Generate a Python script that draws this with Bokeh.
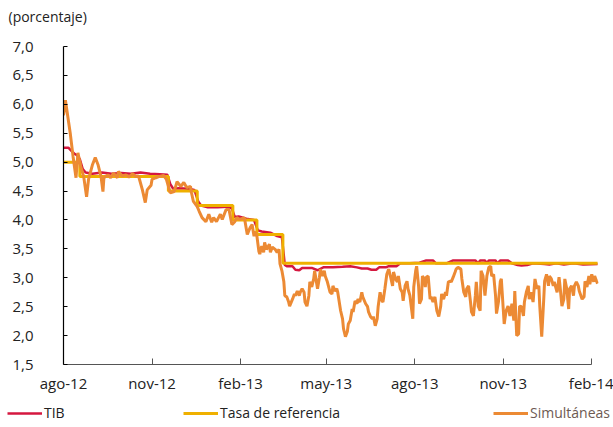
from bokeh.plotting import figure
from bokeh.layouts import column
from bokeh.models import Range1d, FixedTicker, Legend, LegendItem, Label
from bokeh.embed import file_html
from bokeh.resources import INLINE

# ---- data (x = days since 1 Aug 2012) ----
x_ticks = [0, 92, 184, 273, 365, 457, 549]
x_labels = ["ago-12", "nov-12", "feb-13", "may-13", "ago-13", "nov-13", "feb-14"]

y_ticks = [1.5, 2.0, 2.5, 3.0, 3.5, 4.0, 4.5, 5.0, 5.5, 6.0, 6.5, 7.0]
y_labels = ["1,5", "2,0", "2,5", "3,0", "3,5", "4,0", "4,5", "5,0", "5,5", "6,0", "6,5", "7,0"]

# Tasa de referencia (step changes)
ref_dia = [0, 17, 109, 139, 176, 201, 228, 555]
ref_val = [5.00, 4.75, 4.50, 4.25, 4.00, 3.75, 3.25, 3.25]

# TIB
tib = [(0, 5.25), (5, 5.25), (8, 5.20), (11, 5.15), (14, 5.12), (17, 5.05), (20, 4.88), (23, 4.82),
       (30, 4.80), (40, 4.82), (50, 4.80), (60, 4.81), (70, 4.80), (80, 4.82), (90, 4.80), (100, 4.79),
       (108, 4.78), (111, 4.62), (114, 4.54), (120, 4.55), (130, 4.54), (136, 4.52), (140, 4.32),
       (143, 4.25), (150, 4.22), (160, 4.22), (170, 4.23), (175, 4.20), (178, 4.05), (182, 4.06),
       (190, 4.02), (198, 4.00), (202, 3.82), (206, 3.80), (215, 3.78), (222, 3.72), (227, 3.70),
       (230, 3.22), (232, 3.20), (238, 3.20), (241, 3.14), (245, 3.13), (248, 3.17), (258, 3.17),
       (264, 3.13), (270, 3.18), (280, 3.18), (290, 3.19), (298, 3.20), (305, 3.18), (310, 3.16),
       (316, 3.16), (320, 3.14), (325, 3.14), (328, 3.18), (335, 3.18), (338, 3.20), (346, 3.20),
       (350, 3.25), (360, 3.25), (370, 3.26), (377, 3.30), (384, 3.30), (387, 3.25), (398, 3.25),
       (405, 3.30), (428, 3.30), (431, 3.25), (433, 3.30), (438, 3.30), (440, 3.25), (442, 3.30),
       (449, 3.30), (451, 3.25), (454, 3.30), (462, 3.30), (466, 3.25), (472, 3.22), (476, 3.21),
       (482, 3.22), (488, 3.25), (500, 3.24), (505, 3.23), (512, 3.25), (520, 3.23), (530, 3.25),
       (540, 3.23), (555, 3.24)]

# Simultáneas
sim = [(0, 5.81), (2, 6.07), (7, 5.50), (10, 5.09), (13, 4.73), (15, 5.16), (18, 4.92), (21, 4.75),
       (24, 4.40), (26, 4.70), (30, 4.95), (33, 5.08), (36, 4.95), (39, 4.75), (41, 4.49), (42, 4.73),
       (46, 4.78), (49, 4.73), (52, 4.81), (56, 4.73), (57, 4.84), (61, 4.76), (65, 4.78), (68, 4.74),
       (72, 4.80), (75, 4.75), (78, 4.76), (82, 4.52), (85, 4.30), (87, 4.52), (91, 4.60), (92, 4.70),
       (96, 4.73), (99, 4.75), (104, 4.77), (107, 4.70), (111, 4.47), (115, 4.49), (118, 4.66),
       (122, 4.58), (125, 4.65), (128, 4.56), (132, 4.58), (133, 4.47), (135, 4.32), (139, 4.23),
       (141, 4.15), (144, 4.04), (148, 3.97), (151, 4.10), (154, 3.96), (156, 4.04), (159, 3.97),
       (163, 4.10), (165, 4.01), (169, 4.18), (172, 4.18), (175, 3.92), (178, 3.97), (180, 4.04),
       (183, 4.01), (188, 4.04), (191, 3.75), (194, 3.87), (196, 3.92), (198, 3.72), (199, 3.80),
       (201, 3.72), (203, 3.46), (204, 3.41), (206, 3.55), (208, 3.44), (209, 3.61), (211, 3.49),
       (214, 3.58), (215, 3.44), (217, 3.53), (220, 3.49), (222, 3.44), (224, 3.49), (225, 3.24),
       (227, 3.12), (229, 2.93), (230, 2.69), (232, 2.67), (234, 2.58), (235, 2.51), (238, 2.63),
       (240, 2.72), (241, 2.69), (243, 2.77), (245, 2.69), (246, 2.75), (248, 2.81), (250, 2.75),
       (251, 2.58), (253, 2.51), (255, 2.69), (256, 2.93), (258, 2.84), (260, 2.98), (261, 3.12),
       (264, 2.81), (266, 3.01), (267, 3.15), (269, 3.03), (271, 3.12), (272, 3.03), (274, 2.94),
       (277, 2.75), (279, 2.72), (280, 2.86), (282, 2.77), (284, 2.81), (285, 2.75), (288, 2.43),
       (290, 2.29), (291, 2.12), (293, 1.98), (295, 2.07), (296, 2.20), (298, 2.26), (300, 2.46),
       (301, 2.41), (303, 2.60), (305, 2.55), (306, 2.63), (308, 2.58), (310, 2.75), (311, 2.67),
       (314, 2.55), (316, 2.50), (317, 2.41), (319, 2.33), (321, 2.29), (322, 2.33), (324, 2.17),
       (326, 2.29), (327, 2.50), (329, 2.75), (331, 2.60), (332, 2.58), (334, 2.81), (336, 3.06),
       (338, 3.15), (340, 3.01), (342, 2.86), (343, 3.10), (345, 2.98), (347, 2.93), (348, 3.03),
       (350, 2.81), (352, 2.75), (353, 2.60), (355, 2.86), (357, 2.94), (358, 2.81), (360, 2.69),
       (363, 2.29), (364, 2.84), (366, 3.12), (367, 3.20), (369, 2.86), (370, 2.55), (372, 2.63),
       (373, 3.03), (375, 2.98), (376, 2.84), (377, 3.01), (379, 3.03), (381, 2.63), (382, 2.67),
       (384, 2.58), (386, 2.67), (388, 2.43), (390, 2.33), (392, 2.51), (393, 2.72), (395, 2.63),
       (397, 2.75), (398, 2.69), (400, 2.93), (402, 2.94), (403, 2.93), (405, 3.01), (407, 3.10),
       (408, 3.15), (410, 3.18), (413, 3.15), (414, 2.98), (416, 2.75), (418, 2.67), (419, 2.81),
       (421, 2.86), (423, 2.58), (424, 2.41), (426, 2.34), (428, 2.69), (429, 2.93), (431, 2.51),
       (433, 2.43), (434, 3.12), (436, 3.03), (438, 2.69), (440, 3.03), (442, 3.18), (444, 3.20),
       (445, 3.03), (447, 3.06), (449, 2.69), (450, 2.38), (452, 2.58), (454, 2.94), (455, 2.98),
       (457, 2.46), (458, 2.20), (460, 2.43), (462, 2.51), (464, 2.34), (466, 2.55), (468, 2.26),
       (469, 2.77), (471, 2.00), (473, 2.03), (474, 2.51), (476, 2.50), (478, 2.34), (479, 2.58),
       (481, 2.75), (483, 2.86), (484, 2.63), (486, 2.75), (488, 2.58), (490, 2.98), (492, 2.81),
       (494, 2.86), (495, 2.50), (497, 1.98), (499, 2.60), (500, 2.94), (502, 3.06), (504, 2.86),
       (505, 3.03), (507, 2.98), (509, 2.86), (510, 2.93), (513, 2.75), (515, 3.01), (516, 2.86),
       (518, 2.51), (520, 2.63), (521, 2.98), (523, 2.81), (525, 2.46), (526, 2.81), (528, 2.86),
       (530, 2.69), (531, 2.86), (533, 2.93), (535, 2.86), (536, 2.77), (539, 2.63), (541, 2.67),
       (542, 2.94), (544, 2.84), (546, 3.03), (547, 2.89), (549, 3.06), (551, 2.93), (552, 3.03),
       (554, 2.94), (555, 2.90)]

tib_dia, tib_val = [a for a, b in tib], [b for a, b in tib]
sim_dia, sim_val = [a for a, b in sim], [b for a, b in sim]

FONT = "Open Sans"
FS = "15px"
FS_SMALL = "14px"
C_TXT = "#222222"
C_TIB = "#d5173f"
C_REF = "#efb000"
C_SIM = "#ec8a34"
W = 613
NAN = float("nan")


def blank_fig(h):
    f = figure(width=W, height=h, output_backend="svg", toolbar_location=None,
               x_range=Range1d(0, W), y_range=Range1d(0, h),
               x_axis_location=None, y_axis_location=None, min_border=0,
               frame_align=False)
    f.outline_line_color = None
    f.xgrid.visible = False
    f.ygrid.visible = False
    return f


# header with unit label
head = blank_fig(30)
head.add_layout(Label(x=8, y=24, text="(porcentaje)", text_font=FONT, text_font_size=FS_SMALL,
                      text_color=C_TXT, text_baseline="top"))

# main chart
p = figure(width=W, height=365, output_backend="svg", toolbar_location=None,
           x_range=Range1d(0, 556), y_range=Range1d(1.5, 7.0), frame_align=False,
           min_border_left=63, min_border_right=15, min_border_top=16, min_border_bottom=29)
p.outline_line_color = None
p.xgrid.visible = False
p.ygrid.visible = False

p.line(tib_dia, tib_val, line_color=C_TIB, line_width=2.5)
p.step(ref_dia, ref_val, mode="after", line_color=C_REF, line_width=3)
p.line(sim_dia, sim_val, line_color=C_SIM, line_width=3)

p.xaxis.ticker = FixedTicker(ticks=x_ticks)
p.xaxis.major_label_overrides = dict(zip(x_ticks, x_labels))
p.xaxis.bounds = (0, 549)
p.xaxis.axis_line_color = "#555555"
p.xaxis.major_tick_line_color = "#555555"
p.xaxis.major_tick_in = 6
p.xaxis.major_tick_out = 0
p.xaxis.minor_tick_line_color = None
p.xaxis.major_label_standoff = 8

p.yaxis.ticker = FixedTicker(ticks=y_ticks)
p.yaxis.major_label_overrides = dict(zip(y_ticks, y_labels))
p.yaxis.axis_line_color = "black"
p.yaxis.major_tick_line_color = "black"
p.yaxis.major_tick_in = 4
p.yaxis.major_tick_out = 0
p.yaxis.minor_tick_line_color = None
p.yaxis.major_label_standoff = 30

for ax in (p.xaxis, p.yaxis):
    ax.major_label_text_font = FONT
    ax.major_label_text_font_size = FS
    ax.major_label_text_color = C_TXT
    ax.axis_line_width = 1.2

# legend strip
leg_fig = blank_fig(32)
series = [("TIB", C_TIB, 2.5, 7, C_TXT),
          ("Tasa de referencia", C_REF, 3, 183, C_TXT),
          ("Simultáneas", C_SIM, 3, 493, "#6e5a52")]
for lab, col, lw, xloc, tcol in series:
    r = leg_fig.line(x=[NAN], y=[NAN], line_color=col, line_width=lw)
    leg = Legend(items=[LegendItem(label=lab, renderers=[r])], location=(xloc, 5),
                 orientation="horizontal", border_line_color=None, background_fill_alpha=0,
                 padding=0, margin=0, glyph_width=35, glyph_height=18, label_height=18,
                 label_standoff=2, spacing=0, label_text_font=FONT, label_text_font_size=FS_SMALL,
                 label_text_color=tcol)
    leg_fig.add_layout(leg)

layout = column(head, p, leg_fig, spacing=0)
open("out.html", "w").write(file_html(layout, INLINE))
